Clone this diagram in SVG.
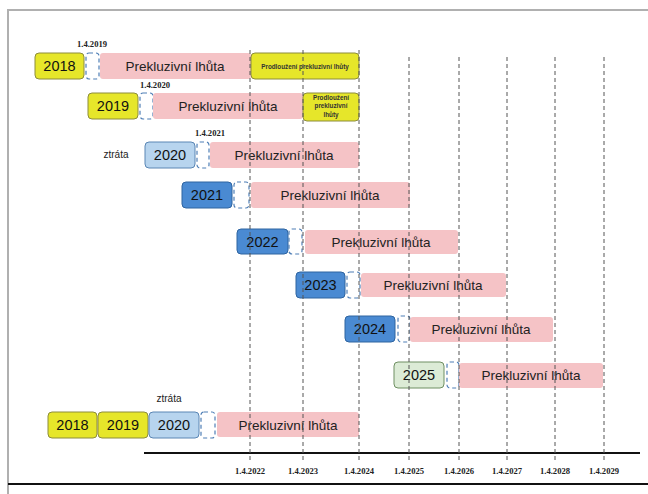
<svg xmlns="http://www.w3.org/2000/svg" width="648" height="494" viewBox="0 0 648 494">
<style>
.frame{stroke:#b0b0b0;stroke-width:2;fill:none}
.yel{fill:#e6e62a;stroke:#8c8c3c;stroke-width:1}
.lb{fill:#b7d4ee;stroke:#5a86b4;stroke-width:1}
.db{fill:#4a8ad2;stroke:#2e64a0;stroke-width:1}
.gr{fill:#dcebd6;stroke:#6f8f62;stroke-width:1}
.pk{fill:#f5c3c6;stroke:none}
.dsh{fill:#fff;stroke:#4f7fb6;stroke-width:1.2;stroke-dasharray:4 3}
.grid{stroke:#555;stroke-width:1;stroke-dasharray:4 3;fill:none}
.yr{font-family:"Liberation Sans",Arial,sans-serif;font-size:14.5px;fill:#111;text-anchor:middle}
.pt{font-family:"Liberation Sans",Arial,sans-serif;font-size:13.5px;fill:#222;text-anchor:middle}
.pr{font-family:"Liberation Sans",Arial,sans-serif;font-size:6.3px;font-weight:bold;fill:#333;text-anchor:middle}
.dt{font-family:"Liberation Serif","Times New Roman",serif;font-size:8.6px;font-weight:bold;fill:#222;text-anchor:middle}
.zt{font-family:"Liberation Sans",Arial,sans-serif;font-size:10px;fill:#222;text-anchor:middle}
</style>
<rect x="0" y="0" width="648" height="494" fill="#fff"/>
<path class="frame" d="M8,494 V10 H648"/>
<line x1="8" y1="484" x2="648" y2="484" stroke="#111" stroke-width="2"/>
<line x1="144" y1="453" x2="640" y2="453" stroke="#111" stroke-width="2"/>

<g id="row2018">
<rect class="yel" x="35" y="53" width="49" height="26" rx="4"/>
<text class="yr" x="59.5" y="71">2018</text>
<rect class="dsh" x="86" y="53" width="13" height="26" rx="3"/>
<rect class="pk" x="100" y="53" width="151" height="26" rx="3"/>
<text class="pt" x="175" y="71">Prekluzivní lhůta</text>
<rect class="yel" x="251" y="53" width="108" height="26" rx="4"/>
<text class="pr" x="305" y="68.5">Prodloužení prekluzivní lhůty</text>
<text class="dt" x="92" y="47">1.4.2019</text>
</g>

<g id="row2019">
<rect class="yel" x="88" y="93" width="50" height="26" rx="4"/>
<text class="yr" x="113" y="111">2019</text>
<rect class="dsh" x="140" y="93" width="13" height="26" rx="3"/>
<rect class="pk" x="153" y="93" width="150" height="26" rx="3"/>
<text class="pt" x="228" y="111">Prekluzivní lhůta</text>
<rect class="yel" x="303" y="93" width="56" height="28" rx="4"/>
<text class="pr" x="331" y="99.5">Prodloužení</text>
<text class="pr" x="331" y="108">prekluzivní</text>
<text class="pr" x="331" y="117">lhůty</text>
<text class="dt" x="155" y="88">1.4.2020</text>
</g>

<g id="row2020">
<text class="zt" x="116" y="158">ztráta</text>
<rect class="lb" x="145" y="142" width="50" height="26" rx="4"/>
<text class="yr" x="170" y="160">2020</text>
<rect class="dsh" x="197" y="142" width="12" height="26" rx="3"/>
<rect class="pk" x="210" y="142" width="149" height="26" rx="3"/>
<text class="pt" x="284" y="160">Prekluzivní lhůta</text>
<text class="dt" x="210" y="136">1.4.2021</text>
</g>

<g id="row2021">
<rect class="db" x="182" y="182" width="50" height="26" rx="4"/>
<text class="yr" x="207" y="200">2021</text>
<rect class="dsh" x="234" y="182" width="15" height="26" rx="3"/>
<rect class="pk" x="251" y="182" width="159" height="26" rx="3"/>
<text class="pt" x="330" y="200">Prekluzivní lhůta</text>
</g>

<g id="row2022">
<rect class="db" x="237" y="229" width="51" height="25" rx="4"/>
<text class="yr" x="262.5" y="246.5">2022</text>
<rect class="dsh" x="289" y="229" width="13" height="25" rx="3"/>
<rect class="pk" x="305" y="230" width="153" height="24" rx="3"/>
<text class="pt" x="381" y="246.5">Prekluzivní lhůta</text>
</g>

<g id="row2023">
<rect class="db" x="296" y="272" width="49" height="26" rx="4"/>
<text class="yr" x="320.5" y="290">2023</text>
<rect class="dsh" x="347" y="272" width="13" height="26" rx="3"/>
<rect class="pk" x="361" y="273" width="145" height="24" rx="3"/>
<text class="pt" x="433" y="290">Prekluzivní lhůta</text>
</g>

<g id="row2024">
<rect class="db" x="345" y="316" width="50" height="26" rx="4"/>
<text class="yr" x="370" y="334">2024</text>
<rect class="dsh" x="398" y="316" width="12" height="26" rx="3"/>
<rect class="pk" x="410" y="317" width="143" height="25" rx="3"/>
<text class="pt" x="481" y="334">Prekluzivní lhůta</text>
</g>

<g id="row2025">
<rect class="gr" x="394" y="362" width="50" height="26" rx="4"/>
<text class="yr" x="419" y="380">2025</text>
<rect class="dsh" x="447" y="362" width="12" height="26" rx="3"/>
<rect class="pk" x="459" y="363" width="144" height="25" rx="3"/>
<text class="pt" x="531" y="380">Prekluzivní lhůta</text>
</g>

<g id="rowSum">
<text class="zt" x="169" y="402">ztráta</text>
<rect class="yel" x="48" y="412" width="49" height="26" rx="4"/>
<text class="yr" x="72.5" y="430">2018</text>
<rect class="yel" x="98" y="412" width="50" height="26" rx="4"/>
<text class="yr" x="123" y="430">2019</text>
<rect class="lb" x="149" y="412" width="50" height="26" rx="4"/>
<text class="yr" x="174" y="430">2020</text>
<rect class="dsh" x="201" y="412" width="14" height="26" rx="3"/>
<rect class="pk" x="217" y="412" width="142" height="25" rx="3"/>
<text class="pt" x="288" y="430">Prekluzivní lhůta</text>
</g>

<g id="grid">
<line class="grid" x1="250" y1="50" x2="250" y2="463"/>
<line class="grid" x1="303" y1="50" x2="303" y2="463"/>
<line class="grid" x1="359" y1="50" x2="359" y2="463"/>
<line class="grid" x1="409" y1="57" x2="409" y2="463"/>
<line class="grid" x1="459" y1="57" x2="459" y2="463"/>
<line class="grid" x1="507" y1="57" x2="507" y2="463"/>
<line class="grid" x1="555" y1="57" x2="555" y2="463"/>
<line class="grid" x1="604" y1="57" x2="604" y2="463"/>
</g>

<g id="axisLabels">
<text class="dt" x="250" y="474">1.4.2022</text>
<text class="dt" x="303" y="474">1.4.2023</text>
<text class="dt" x="359" y="474">1.4.2024</text>
<text class="dt" x="409" y="474">1.4.2025</text>
<text class="dt" x="459" y="474">1.4.2026</text>
<text class="dt" x="507" y="474">1.4.2027</text>
<text class="dt" x="555" y="474">1.4.2028</text>
<text class="dt" x="604" y="474">1.4.2029</text>
</g>
</svg>
